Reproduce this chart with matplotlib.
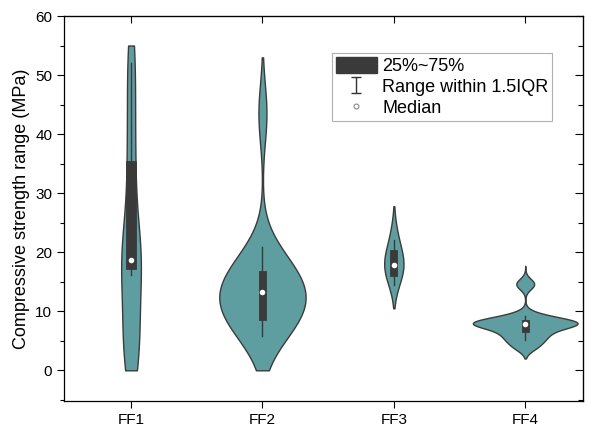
import matplotlib
matplotlib.use('Agg')
import matplotlib.pyplot as plt
import numpy as np
from matplotlib import mlab
from matplotlib.lines import Line2D
from matplotlib.patches import Patch
from matplotlib.path import Path
from matplotlib.ticker import MultipleLocator

plt.rcParams['font.family'] = ['Liberation Sans', 'DejaVu Sans']

# categories
groups = ['FF1', 'FF2', 'FF3', 'FF4']

# samples (MPa)
ff1 = [0, 1.5, 3, 5, 8, 10, 12, 16.5, 17.5, 18.5, 19.5, 21, 23, 27, 32, 36, 41, 46, 51, 55]
ff2 = [6.1, 7.4, 8.2, 8.9, 10.3, 11.0, 12.2, 12.8, 13.5, 14.6, 15.7, 16.4, 17.9, 19.0, 43.5]
ff3 = [14.5, 15.5, 16.2, 17.0, 17.6, 18.0, 18.4, 19.0, 19.8, 20.5, 22.0, 24.0]
ff4 = [4.0, 5.2, 6.0, 6.8, 7.8, 8.0, 8.0, 8.0, 8.2, 9.2, 14.6]

# kde bandwidth (MPa) and the range each violin is drawn over
bandwidth = [6.0, 5.0, 2.5, 0.9]
range_lo = [0, 0, 10.5, 2.0]
range_hi = [55, 53, 27.8, 17.7]

# box statistics
q1 = [17.2, 8.6, 15.9, 6.5]
q3 = [35.5, 16.8, 20.4, 8.6]
medians = [18.6, 13.3, 17.9, 7.9]
whis_lo = [16.1, 5.8, 14.5, 5.2]
whis_hi = [52.1, 20.9, 22.0, 9.2]

fill_color = '#5f9ea0'
dark = '#3a3a3a'


def kde_stats(data, bw, lo, hi):
    data = np.asarray(data, dtype=float)
    kde = mlab.GaussianKDE(data, bw / data.std(ddof=1))
    coords = np.linspace(lo, hi, 400)
    return {'coords': coords, 'vals': kde.evaluate(coords), 'mean': data.mean(),
            'median': np.median(data), 'min': lo, 'max': hi}


samples = [ff1, ff2, ff3, ff4]
positions = np.arange(1, len(groups) + 1)
vstats = [kde_stats(d, b, lo, hi) for d, b, lo, hi in zip(samples, bandwidth, range_lo, range_hi)]

fig = plt.figure(figsize=(5.89, 4.26), dpi=100)
ax = fig.add_axes([0.1087, 0.0587, 0.8812, 0.9037])

parts = ax.violin(vstats, positions=positions, widths=[0.15, 0.657, 0.147, 0.797],
                  showmeans=False, showextrema=False, showmedians=False)
for pc in parts['bodies']:
    pc.set_facecolor(fill_color)
    pc.set_edgecolor('#3b3b3b')
    pc.set_alpha(1)
    pc.set_linewidth(1.0)

box_stats = [{'med': m, 'q1': a, 'q3': b, 'whislo': wl, 'whishi': wh, 'fliers': []}
             for m, a, b, wl, wh in zip(medians, q1, q3, whis_lo, whis_hi)]
ax.bxp(box_stats, positions=positions, widths=[0.072, 0.058, 0.055, 0.056],
       patch_artist=True, showcaps=False, showfliers=False, manage_ticks=False,
       boxprops=dict(facecolor=dark, edgecolor=dark, linewidth=0.6),
       whiskerprops=dict(color=dark, linewidth=1.0),
       medianprops=dict(linewidth=0))
ax.plot(positions, medians, 'o', color='white', markersize=4, markeredgewidth=0, zorder=5)

ax.set_xlim(0.49, 4.44)
ax.set_ylim(-5.2, 60)
ax.set_xticks(positions)
ax.set_xticklabels(groups)
ax.yaxis.set_major_locator(MultipleLocator(10))
ax.yaxis.set_minor_locator(MultipleLocator(5))
ax.tick_params(axis='both', which='major', labelsize=11, direction='out', length=5, width=0.8)
ax.tick_params(axis='y', which='minor', direction='out', length=3, width=0.8)
ax.set_ylabel('Compressive strength range (MPa)', fontsize=13, labelpad=4)

# inward ticks on the right and top
right = ax.secondary_yaxis('right')
right.yaxis.set_major_locator(MultipleLocator(10))
right.yaxis.set_minor_locator(MultipleLocator(5))
right.tick_params(which='major', direction='in', length=6, width=0.8, labelright=False)
right.tick_params(which='minor', direction='in', length=3.5, width=0.8)
top = ax.secondary_xaxis('top')
top.set_xticks(positions)
top.tick_params(direction='in', length=5, width=0.8, labeltop=False)

for sp in ax.spines.values():
    sp.set_linewidth(0.9)

# legend
ibeam = Path([(-0.34, 0.5), (0.34, 0.5), (0, 0.5), (0, -0.5), (-0.34, -0.5), (0.34, -0.5)],
             [Path.MOVETO, Path.LINETO, Path.MOVETO, Path.LINETO, Path.MOVETO, Path.LINETO])
handles = [Patch(facecolor=dark, edgecolor=dark),
           Line2D([], [], linestyle='none', marker=ibeam, markersize=11, markerfacecolor='none',
                  markeredgecolor='#333333', markeredgewidth=1.0),
           Line2D([], [], linestyle='none', marker='o', markersize=3.5, markerfacecolor='white',
                  markeredgecolor='#888888', markeredgewidth=0.8)]
labels = ['25%~75%', 'Range within 1.5IQR', 'Median']
leg = ax.legend(handles, labels, loc='upper left', bbox_to_anchor=(0.517, 0.903), borderaxespad=0,
                fontsize=13, fancybox=False, edgecolor='#b0b0b0', framealpha=1,
                handlelength=2.27, handleheight=1.0, handletextpad=0.28, labelspacing=0.15,
                borderpad=0.2)
leg.get_frame().set_linewidth(0.8)

fig.savefig('out.png', dpi=100)
